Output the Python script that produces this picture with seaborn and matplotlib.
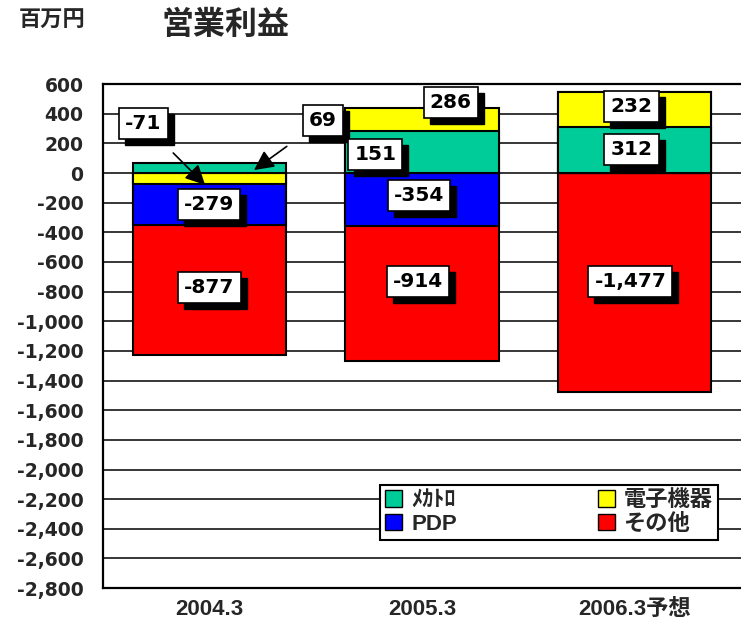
import matplotlib
matplotlib.use("Agg")
import matplotlib.pyplot as plt
import seaborn as sns
from matplotlib.patches import Patch, Rectangle

categories = ["2004.3", "2005.3", "2006.3予想"]
series = ["ﾒｶﾄﾛ", "電子機器", "PDP", "その他"]
mecha = [69, 286, 312]
electro = [-71, 151, 232]
pdp = [-279, -354, 0]
other = [-877, -914, -1477]
colors = ["#00CC99", "#FFFF00", "#0000FF", "#FF0000"]
yticks = list(range(-2800, 601, 200))

sns.set_theme(style="white")
plt.rcParams["font.family"] = ["Liberation Sans", "Noto Sans CJK JP", "DejaVu Sans"]
plt.rcParams["font.weight"] = "bold"
NUM = ["DejaVu Sans"]

fig = plt.figure(figsize=(7.41, 6.23), dpi=100)
ax = fig.add_axes([0.139, 0.056, 0.861, 0.809])

# excel style stacking: positives go up, negatives go down, in series order
values = [mecha, electro, pdp, other]
ends = []
pos = [0] * len(categories)
neg = [0] * len(categories)
for vals in values:
    e = []
    for i, v in enumerate(vals):
        if v >= 0:
            pos[i] += v
            e.append(pos[i])
        else:
            neg[i] += v
            e.append(neg[i])
    ends.append(e)

# draw outermost first so inner segments sit on top
for e, c in reversed(list(zip(ends, colors))):
    sns.barplot(x=categories, y=e, color=c, saturation=1, width=0.72,
                edgecolor="black", linewidth=1.5, errorbar=None, ax=ax)

ax.set_ylim(-2800, 600)
ax.set_xlim(-0.5, 2.5)
ax.set_yticks(yticks)
ax.set_yticklabels([f"{v:,}" for v in yticks], fontsize=13.5, fontweight="bold",
                   family=NUM)
ax.set_xticklabels(categories, fontsize=16, fontweight="bold")
ax.tick_params(axis="y", length=0, pad=14)
ax.tick_params(axis="x", length=0, pad=8)
ax.yaxis.grid(True, color="black", linewidth=1.1)
ax.set_axisbelow(True)
for s in ["left", "bottom", "top"]:
    ax.spines[s].set_color("black")
    ax.spines[s].set_linewidth(1.6)
ax.spines["right"].set_visible(False)

labels = []


def box_label(x, y, s, xy=None):
    kw = {}
    if xy is not None:
        kw = dict(arrowprops=dict(arrowstyle="-|>", color="black", lw=1.2,
                                  mutation_scale=30, shrinkA=14, shrinkB=0))
    t = ax.annotate(s, xy if xy is not None else (x, y), xytext=(x, y),
                    ha="center", va="center", fontsize=14.5, fontweight="bold",
                    family=NUM, color="black", zorder=6,
                    bbox=dict(boxstyle="square,pad=0.3", fc="white", ec="black", lw=1.2),
                    **kw)
    labels.append(t)


def fmt(v):
    return f"{v:,}"


# label placements (x, y) as laid out in the reference
box_label(-0.31, 337, fmt(electro[0]), xy=(-0.02, -80))
box_label(0.535, 357, fmt(mecha[0]), xy=(0.21, 20))
box_label(0.0, -210, fmt(pdp[0]))
box_label(0.0, -770, fmt(other[0]))
box_label(1.135, 478, fmt(mecha[1]))
box_label(0.78, 128, fmt(electro[1]))
box_label(0.985, -149, fmt(pdp[1]))
box_label(0.98, -729, fmt(other[1]))
box_label(1.985, 451, fmt(electro[2]))
box_label(1.985, 161, fmt(mecha[2]))
box_label(1.98, -729, fmt(other[2]))

handles = [Patch(facecolor=c, edgecolor="black", label=n) for n, c in zip(series, colors)]
order = [0, 2, 1, 3]
leg = ax.legend([handles[i] for i in order], [series[i] for i in order], ncol=2,
                loc="lower left", bbox_to_anchor=(0.434, 0.095, 0.53, 0.113),
                mode="expand", frameon=True, fancybox=False, fontsize=16,
                handlelength=0.75, handleheight=0.75, handletextpad=0.4,
                borderpad=0.25, labelspacing=0.1, borderaxespad=0,
                columnspacing=1.0)
leg.get_frame().set_edgecolor("black")
leg.get_frame().set_linewidth(1.5)
leg.get_frame().set_alpha(1)
for t in leg.get_texts():
    t.set_fontweight("bold")

fig.text(0.07, 0.966, "百万円", ha="center", va="center", fontsize=16, fontweight="bold")
fig.text(0.304, 0.958, "営業利益", ha="center", va="center", fontsize=23, fontweight="bold")

# drop shadows behind the label boxes
fig.canvas.draw()
r = fig.canvas.get_renderer()
inv = ax.transAxes.inverted()
for t in labels:
    bb = t.get_bbox_patch().get_window_extent(r).transformed(inv)
    dx = 6 / (0.861 * 741)
    dy = 6 / (0.809 * 623)
    ax.add_patch(Rectangle((bb.x0 + dx, bb.y0 - dy), bb.width, bb.height,
                           transform=ax.transAxes, fc="black", ec="black",
                           zorder=5))

fig.savefig("out.png", dpi=100)
